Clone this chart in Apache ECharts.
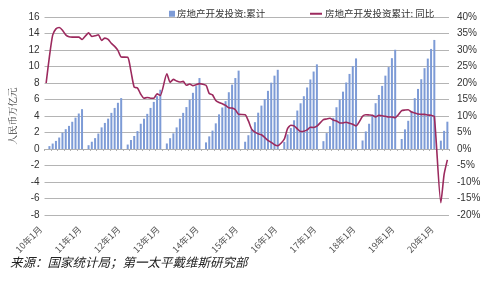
<!DOCTYPE html>
<html><head><meta charset="utf-8">
<script src="https://cdn.jsdelivr.net/npm/echarts@6/dist/echarts.min.js"></script>
<style>html,body{margin:0;padding:0;background:#fff}#c{width:500px;height:283px}</style>
</head><body><div id="c"></div>
<script>
// categories
var years = ['10','11','12','13','14','15','16','17','18','19','20'];
var monthsPerYear = [12,12,12,12,12,12,12,12,12,12,4];

// 房地产开发投资:累计 (人民币万亿元), Jan..Dec, Jan has no data
var inv2010 = [null,0.35,0.66,0.98,1.39,1.97,2.40,2.80,3.30,3.80,4.30,4.83];
var inv2011 = [null,0.46,0.88,1.32,1.87,2.62,3.16,3.68,4.38,4.98,5.60,6.17];
var inv2012 = [null,0.54,1.09,1.58,2.17,3.06,3.67,4.26,4.98,5.71,6.40,7.18];
var inv2013 = [null,0.67,1.31,1.90,2.62,3.68,4.38,5.08,5.97,6.81,7.62,8.60];
var inv2014 = [null,0.80,1.53,2.23,3.11,4.20,5.03,5.80,6.88,7.80,8.60,9.50];
var inv2015 = [null,0.88,1.67,2.37,3.25,4.40,5.26,6.06,7.05,8.04,8.89,9.60];
var inv2016 = [null,0.86,1.77,2.54,3.48,4.66,5.54,6.40,7.46,8.43,9.39,10.26];
var inv2017 = [null,0.95,1.93,2.77,3.78,5.06,5.98,6.95,8.06,9.10,10.04,10.98];
var inv2018 = [null,1.03,2.13,3.06,4.14,5.55,6.55,7.65,8.89,9.93,11.01,12.03];
var inv2019 = [null,1.21,2.38,3.42,4.61,6.16,7.28,8.46,9.80,10.96,12.13,13.22];
var inv2020 = [null,1.01,2.20,3.31];

// 房地产开发投资累计: 同比 (%)
var yoy2010 = [20,28,34.5,36.4,36.8,36.0,34.6,34.0,33.9,33.9,33.9,33.2];
var yoy2011 = [null,35.2,34.1,34.3,34.6,32.9,33.6,33.2,32.0,31.1,29.9,27.9];
var yoy2012 = [null,27.8,23.5,18.7,18.5,16.6,15.4,15.6,15.4,15.4,16.7,16.2];
var yoy2013 = [null,22.8,20.2,21.1,20.6,20.3,20.5,19.3,19.7,19.2,19.5,19.8];
var yoy2014 = [null,19.3,16.8,16.4,14.7,14.1,13.7,13.2,12.5,12.4,11.9,10.5];
var yoy2015 = [null,10.4,8.5,6.0,5.1,4.6,4.3,3.5,2.6,2.0,1.3,1.0];
var yoy2016 = [null,3.0,6.2,7.2,7.0,6.1,5.3,5.4,5.8,6.6,6.5,6.9];
var yoy2017 = [null,8.9,9.1,9.3,8.8,8.5,7.9,7.9,8.1,7.8,7.5,7.0];
var yoy2018 = [null,9.9,10.4,10.3,10.2,9.7,10.2,10.1,9.9,9.7,9.7,9.5];
var yoy2019 = [null,11.6,11.8,11.9,11.2,10.9,10.6,10.5,10.5,10.3,10.2,9.9];
var yoy2020 = [null,-16.3,-7.7,-3.3];

var leftTicks = {min:-8,max:16,interval:2};
var rightTicks = {min:-20,max:40,interval:5};
var sourceText = '来源：国家统计局；第一太平戴维斯研究部';
var barName = '房地产开发投资:累计';
var lineName = '房地产开发投资累计: 同比';
var leftAxisName = '人民币万亿元';

var categories = [];
years.forEach(function(y, i){ for (var m = 1; m <= monthsPerYear[i]; m++) categories.push(y + '年' + m + '月'); });
var invData = [].concat(inv2010,inv2011,inv2012,inv2013,inv2014,inv2015,inv2016,inv2017,inv2018,inv2019,inv2020);
var yoyData = [].concat(yoy2010,yoy2011,yoy2012,yoy2013,yoy2014,yoy2015,yoy2016,yoy2017,yoy2018,yoy2019,yoy2020);

var chart = echarts.init(document.getElementById('c'), null, {renderer:'canvas'});
var sans = '"Liberation Sans", Arial, sans-serif';
var cjk = '"Noto Sans CJK SC", sans-serif';
chart.setOption({
  animation:false,
  grid:{left:43, right:51, top:17, bottom:68, containLabel:false},
  legend:[
    {data:[barName], left:164, top:4, icon:'rect', itemWidth:6, itemHeight:6, itemGap:4,
     textStyle:{fontSize:9.5, color:'#333', fontFamily:cjk, padding:[0,0,0,-3]}},
    {data:[lineName], left:305, top:4, icon:'rect', itemWidth:12, itemHeight:2,
     textStyle:{fontSize:9.5, color:'#333', fontFamily:cjk, padding:[0,0,0,-2]}}
  ],
  xAxis:[
    {type:'category', data:categories, boundaryGap:true,
     axisLine:{show:true, onZero:true, lineStyle:{color:'#b0b0b0', width:1}},
     axisTick:{show:true, interval:1, length:2, lineStyle:{color:'#b0b0b0'}},
     axisLabel:{show:false}, splitLine:{show:false}},
    {type:'category', data:categories, boundaryGap:true, position:'bottom',
     axisLine:{show:false, onZero:false}, axisTick:{show:false},
     axisLabel:{show:true, interval:11, rotate:45, margin:7, fontSize:9, color:'#555', fontFamily:cjk,
       padding:[0,8,0,0]}}
  ],
  yAxis:[
    {type:'value', min:leftTicks.min, max:leftTicks.max, interval:leftTicks.interval,
     name:leftAxisName, nameLocation:'middle', nameGap:21,
     nameTextStyle:{fontSize:9.5, color:'#333', fontFamily:'"Noto Serif CJK SC", ' + cjk},
     axisLine:{show:false}, axisTick:{show:false},
     axisLabel:{fontSize:10, color:'#333', margin:5, fontFamily:sans},
     splitLine:{show:true, lineStyle:{color:'#b4b4b4', width:1.2}}},
    {type:'value', min:rightTicks.min, max:rightTicks.max, interval:rightTicks.interval, position:'right',
     axisLine:{show:false}, axisTick:{show:false},
     axisLabel:{fontSize:10, color:'#333', margin:8, fontFamily:sans, formatter:'{value}%'},
     splitLine:{show:false}}
  ],
  series:[
    {name:barName, type:'bar', xAxisIndex:0, yAxisIndex:0, data:invData, barWidth:2,
     itemStyle:{color:'#7d9bd6'}},
    {name:lineName, type:'line', xAxisIndex:0, yAxisIndex:1, data:yoyData, connectNulls:true,
     smooth:0.2, showSymbol:false, symbol:'none', lineStyle:{color:'#9c2a5e', width:1.6},
     itemStyle:{color:'#9c2a5e'}}
  ],
  graphic:[
    {type:'text', left:10, top:256, style:{text:sourceText, fontSize:12.5, fontStyle:'italic',
      fontFamily:cjk, fill:'#222'}}
  ]
});
</script></body></html>
